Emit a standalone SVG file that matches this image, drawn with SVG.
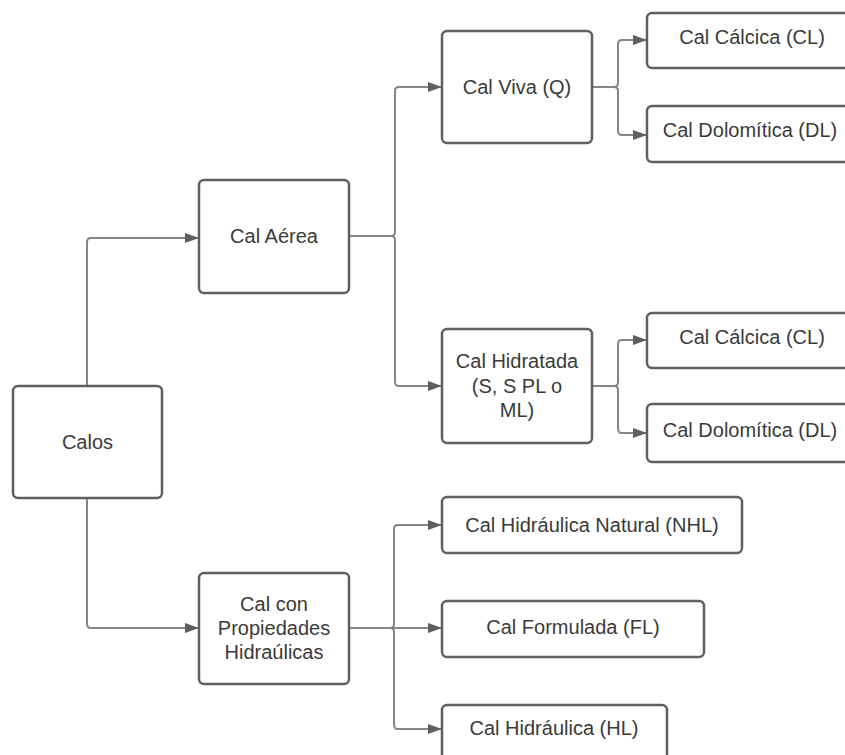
<svg xmlns="http://www.w3.org/2000/svg" width="845" height="755" viewBox="0 0 845 755">
<defs>
<style>
.box{fill:#ffffff;stroke:#5f5f5f;stroke-width:2.5}
.t{font-family:"Liberation Sans",Arial,sans-serif;font-size:20px;fill:#3a3a3a;text-anchor:middle}
.c{fill:none;stroke:#858585;stroke-width:2}
</style>
<marker id="arr" markerUnits="userSpaceOnUse" markerWidth="16" markerHeight="14" refX="14" refY="6" orient="auto">
<path d="M0,1 L14,6 L0,11 Z" fill="#5f5f5f"/>
</marker>
</defs>
<rect width="845" height="755" fill="#ffffff"/>
<g id="connectors">
<path class="c" d="M87,386 V242 Q87,238 91,238 H199" marker-end="url(#arr)"/>
<path class="c" d="M87,498 V624 Q87,628 91,628 H199" marker-end="url(#arr)"/>
<path class="c" d="M349,236 H391 Q395,236 395,232 V91 Q395,87 399,87 H442" marker-end="url(#arr)"/>
<path class="c" d="M391,236 Q395,236 395,240 V382 Q395,386 399,386 H442" marker-end="url(#arr)"/>
<path class="c" d="M592,87 H614 Q618,87 618,83 V44 Q618,40 622,40 H647" marker-end="url(#arr)"/>
<path class="c" d="M614,87 Q618,87 618,91 V131 Q618,135 622,135 H647" marker-end="url(#arr)"/>
<path class="c" d="M592,386 H614 Q618,386 618,382 V344 Q618,340 622,340 H647" marker-end="url(#arr)"/>
<path class="c" d="M614,386 Q618,386 618,390 V429 Q618,433 622,433 H647" marker-end="url(#arr)"/>
<path class="c" d="M349,628 H390 Q394,628 394,624 V529 Q394,525 398,525 H442" marker-end="url(#arr)"/>
<path class="c" d="M390,628 H442" marker-end="url(#arr)"/>
<path class="c" d="M390,628 Q394,628 394,632 V725 Q394,729 398,729 H442" marker-end="url(#arr)"/>
</g>
<g id="calos">
<rect class="box" x="13" y="386" width="149" height="112" rx="5"/>
<text class="t" x="87.5" y="449">Calos</text>
</g>
<g id="cal-aerea">
<rect class="box" x="199" y="180" width="150" height="113" rx="5"/>
<text class="t" x="274" y="243">Cal Aérea</text>
</g>
<g id="cal-hidraulicas">
<rect class="box" x="199" y="573" width="150" height="111" rx="5"/>
<text class="t" x="274" y="611">Cal con</text>
<text class="t" x="274" y="635">Propiedades</text>
<text class="t" x="274" y="659">Hidraúlicas</text>
</g>
<g id="cal-viva">
<rect class="box" x="442" y="31" width="150" height="112" rx="5"/>
<text class="t" x="517" y="94">Cal Viva (Q)</text>
</g>
<g id="cal-hidratada">
<rect class="box" x="442" y="329" width="150" height="114" rx="5"/>
<text class="t" x="517" y="368">Cal Hidratada</text>
<text class="t" x="517" y="393">(S, S PL o</text>
<text class="t" x="517" y="417">ML)</text>
</g>
<g id="cal-calcica-1">
<rect class="box" x="647" y="13" width="215" height="55" rx="5"/>
<text class="t" x="752" y="44">Cal Cálcica (CL)</text>
</g>
<g id="cal-dolomitica-1">
<rect class="box" x="647" y="106" width="215" height="56" rx="5"/>
<text class="t" x="750" y="137">Cal Dolomítica (DL)</text>
</g>
<g id="cal-calcica-2">
<rect class="box" x="647" y="313" width="215" height="55" rx="5"/>
<text class="t" x="752" y="344">Cal Cálcica (CL)</text>
</g>
<g id="cal-dolomitica-2">
<rect class="box" x="647" y="404" width="215" height="58" rx="5"/>
<text class="t" x="750" y="437">Cal Dolomítica (DL)</text>
</g>
<g id="cal-nhl">
<rect class="box" x="442" y="497" width="300" height="56" rx="5"/>
<text class="t" x="592" y="532">Cal Hidráulica Natural (NHL)</text>
</g>
<g id="cal-fl">
<rect class="box" x="442" y="601" width="262" height="56" rx="5"/>
<text class="t" x="573" y="634">Cal Formulada (FL)</text>
</g>
<g id="cal-hl">
<rect class="box" x="442" y="705" width="225" height="70" rx="5"/>
<text class="t" x="554" y="735">Cal Hidráulica (HL)</text>
</g>
</svg>
